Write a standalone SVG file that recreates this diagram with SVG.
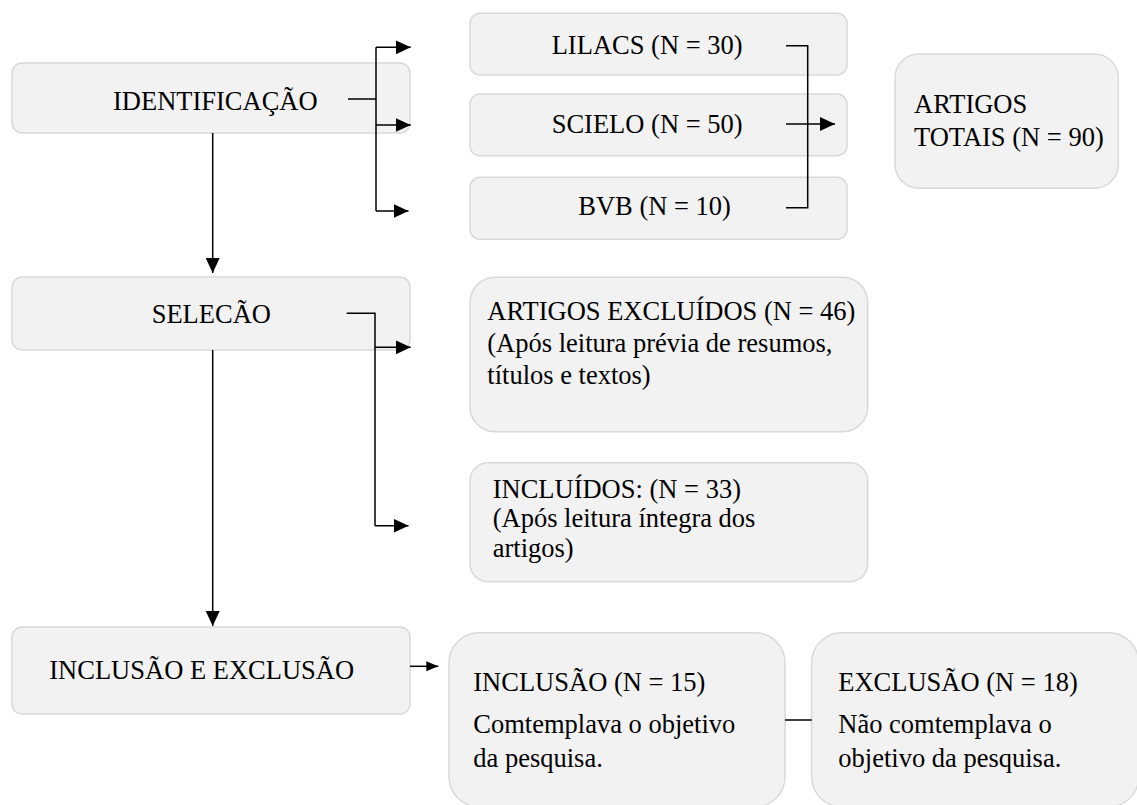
<svg xmlns="http://www.w3.org/2000/svg" width="1137" height="805" viewBox="0 0 1137 805">
<style>
.box{fill:#f2f2f2;stroke:#d9d9d9;stroke-width:1.5}
.ln{fill:none;stroke:#000;stroke-width:1.5}
</style>
<defs>
<marker id="ah" markerUnits="userSpaceOnUse" markerWidth="16" markerHeight="16" refX="15" refY="7" orient="auto">
<path d="M0,0 L15,7 L0,14 z" fill="#000"/>
</marker>
<marker id="ahs" markerUnits="userSpaceOnUse" markerWidth="13" markerHeight="12" refX="12" refY="5" orient="auto">
<path d="M0,0 L12,5 L0,10 z" fill="#000"/>
</marker>
</defs>
<rect width="1137" height="805" fill="#fff"/>

<g font-family="Liberation Serif, Times New Roman, serif" font-size="26.5" fill="#000">
<g id="identificacao">
<rect class="box" x="12" y="63" width="398" height="70" rx="10"/>
<text x="113" y="110">IDENTIFICAÇÃO</text>
</g>
<g id="selecao">
<rect class="box" x="12" y="277" width="398" height="73" rx="10"/>
<text x="151.7" y="322.7">SELECÃO</text>
</g>
<g id="inclusao-exclusao">
<rect class="box" x="12" y="627" width="398" height="87" rx="10"/>
<text x="49.3" y="679.3">INCLUSÃO E EXCLUSÃO</text>
</g>
<g id="lilacs">
<rect class="box" x="470" y="13.3" width="377" height="61.7" rx="10"/>
<text x="551.7" y="54">LILACS (N = 30)</text>
</g>
<g id="scielo">
<rect class="box" x="470" y="94" width="377" height="61.7" rx="10"/>
<text x="551.7" y="133.3">SCIELO (N = 50)</text>
</g>
<g id="bvb">
<rect class="box" x="470" y="177.3" width="377" height="62" rx="10"/>
<text x="578.3" y="215">BVB (N = 10)</text>
</g>
<g id="artigos-totais">
<rect class="box" x="895" y="54" width="223.3" height="134.3" rx="24"/>
<text x="914" y="112.7">ARTIGOS</text>
<text x="914" y="146">TOTAIS (N = 90)</text>
</g>
<g id="excluidos">
<rect class="box" x="470" y="277.3" width="397.7" height="154.4" rx="25"/>
<text x="487.3" y="320">ARTIGOS EXCLUÍDOS (N = 46)</text>
<text x="487.3" y="351.7">(Após leitura prévia de resumos,</text>
<text x="487.3" y="384">títulos e textos)</text>
</g>
<g id="incluidos">
<rect class="box" x="470" y="462.7" width="397.7" height="119" rx="18"/>
<text x="492.7" y="497.7">INCLUÍDOS: (N = 33)</text>
<text x="492.7" y="526.7">(Após leitura íntegra dos</text>
<text x="492.7" y="556.5">artigos)</text>
</g>
<g id="inclusao">
<rect class="box" x="449" y="632.7" width="336" height="174" rx="30"/>
<text x="473.3" y="690.7">INCLUSÃO (N = 15)</text>
<text x="473.3" y="733.3">Comtemplava o objetivo</text>
<text x="473.3" y="766.7">da pesquisa.</text>
</g>
<g id="exclusao">
<rect class="box" x="811.7" y="632.7" width="327" height="174" rx="30"/>
<text x="838.3" y="690.7">EXCLUSÃO (N = 18)</text>
<text x="838.3" y="733.3">Não comtemplava o</text>
<text x="838.3" y="766.7">objetivo da pesquisa.</text>
</g>
</g>

<g id="connectors">
<path class="ln" d="M348,99 H376"/>
<path class="ln" d="M376,47.3 V211"/>
<path class="ln" d="M376,47.3 H410.7" marker-end="url(#ah)"/>
<path class="ln" d="M376,125 H410.7" marker-end="url(#ah)"/>
<path class="ln" d="M376,211 H408.5" marker-end="url(#ah)"/>
<path class="ln" d="M212.7,133 V273" marker-end="url(#ah)"/>
<path class="ln" d="M346.7,313.3 H375 V525.7"/>
<path class="ln" d="M375,347.3 H410.7" marker-end="url(#ah)"/>
<path class="ln" d="M375,525.7 H408.5" marker-end="url(#ah)"/>
<path class="ln" d="M212.7,350 V626" marker-end="url(#ah)"/>
<path class="ln" d="M786,45.7 H807.7 V207.7 H786"/>
<path class="ln" d="M786,124 H835" marker-end="url(#ah)"/>
<path class="ln" d="M410,666.3 H438.3" marker-end="url(#ahs)"/>
<path class="ln" d="M785,720 H811.7"/>
</g>
</svg>
